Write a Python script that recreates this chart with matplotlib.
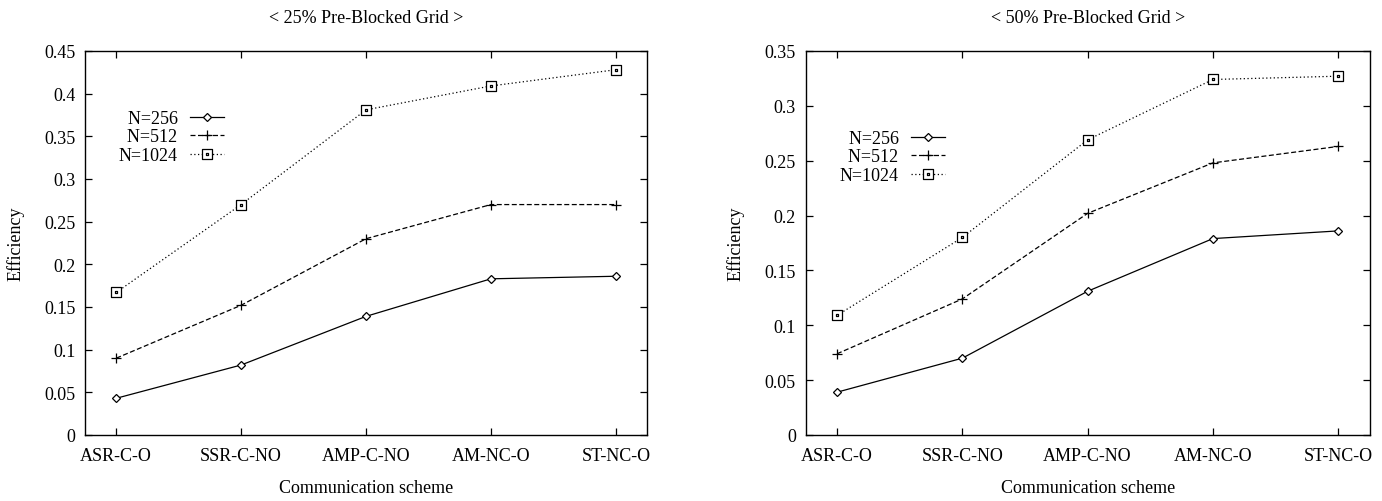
import numpy as np
import matplotlib
matplotlib.use("Agg")
import matplotlib.pyplot as plt
from matplotlib.path import Path
from matplotlib.ticker import FuncFormatter, MultipleLocator

plt.rcParams['font.family'] = ['Liberation Serif', 'DejaVu Serif']

# Données
schemes = ["ASR-C-O", "SSR-C-NO", "AMP-C-NO", "AM-NC-O", "ST-NC-O"]
labels = ["N=256", "N=512", "N=1024"]

eff_25_256 = [0.043, 0.082, 0.139, 0.183, 0.186]
eff_25_512 = [0.090, 0.152, 0.230, 0.270, 0.270]
eff_25_1024 = [0.167, 0.270, 0.381, 0.409, 0.428]

eff_50_256 = [0.039, 0.070, 0.131, 0.179, 0.186]
eff_50_512 = [0.074, 0.124, 0.202, 0.248, 0.263]
eff_50_1024 = [0.109, 0.180, 0.269, 0.324, 0.327]

titles = ["< 25% Pre-Blocked Grid >", "< 50% Pre-Blocked Grid >"]
ymax = [0.45, 0.35]

# carré avec un point au centre (comme gnuplot)
sq_dot = Path([(-1, -1), (1, -1), (1, 1), (-1, 1), (-1, -1),
               (-0.12, -0.12), (0.12, -0.12), (0.12, 0.12), (-0.12, 0.12), (-0.12, -0.12)],
              [Path.MOVETO, Path.LINETO, Path.LINETO, Path.LINETO, Path.CLOSEPOLY,
               Path.MOVETO, Path.LINETO, Path.LINETO, Path.LINETO, Path.CLOSEPOLY])

styles = [
    dict(linestyle='-', marker='D', markersize=4, markerfacecolor='white'),
    dict(linestyle=(0, (4, 2)), marker='+', markersize=7),
    dict(linestyle=(0, (1, 2)), marker=sq_dot, markersize=7, markerfacecolor='white'),
]

fig = plt.figure(figsize=(13.82, 5.02), dpi=100)
axes = [fig.add_axes([0.0615, 0.1315, 0.4067, 0.765]),
        fig.add_axes([0.583, 0.1315, 0.408, 0.765])]

data = [[eff_25_256, eff_25_512, eff_25_1024],
        [eff_50_256, eff_50_512, eff_50_1024]]
leg_y = [0.776, 0.724]

x = np.arange(len(schemes))
for k, ax in enumerate(axes):
    for i, serie in enumerate(data[k]):
        # espace chiffre pour aligner le texte à droite comme gnuplot
        lab = labels[i] if len(labels[i]) == 6 else "\u2007" + labels[i]
        ax.plot(x, serie, color='black', linewidth=0.9,
                markeredgewidth=0.9, label=lab, **styles[i])
    ax.set_xlim(-0.25, 4.25)
    ax.set_ylim(0, ymax[k])
    ax.set_xticks(x)
    ax.set_xticklabels(schemes)
    ax.yaxis.set_major_locator(MultipleLocator(0.05))
    ax.yaxis.set_major_formatter(FuncFormatter(lambda v, p: "%g" % round(v, 4)))
    ax.tick_params(direction='in', top=True, right=True, length=5,
                   width=0.9, labelsize=13, pad=7)
    ax.tick_params(axis='x', pad=9)
    for s in ax.spines.values():
        s.set_linewidth(1.0)
    ax.set_title(titles[k], fontsize=13, pad=21)
    ax.set_ylabel("Efficiency", fontsize=13)
    ax.yaxis.set_label_coords(-0.108, 0.5)
    ax.set_xlabel("Communication scheme", fontsize=13)
    ax.xaxis.set_label_coords(0.5, -0.115)
    ax.legend(loc='center', bbox_to_anchor=(0.153, leg_y[k]), frameon=False,
              markerfirst=False, fontsize=13, handlelength=1.85,
              handletextpad=0.7, labelspacing=0.08, borderpad=0)

fig.savefig("out.png", dpi=100)
